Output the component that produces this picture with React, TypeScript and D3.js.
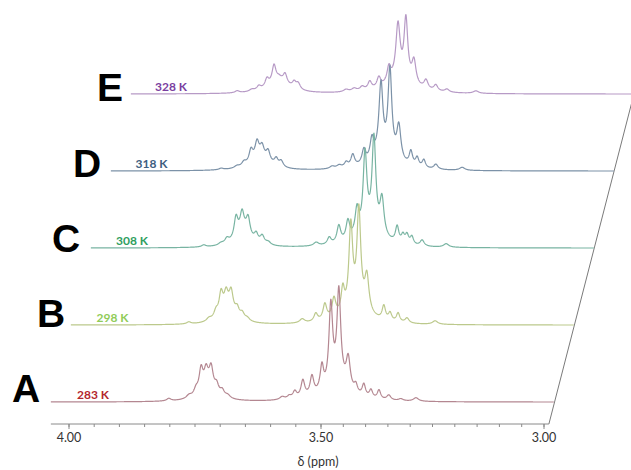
import React from "react";
import * as d3 from "d3";

// ---------- data ----------
const SPECTRUM_IDS = ["A", "B", "C", "D", "E"];
const TEMPERATURES = ["283 K", "298 K", "308 K", "318 K", "328 K"];
const TICK_VALUES = [4.0, 3.5, 3.0];
const TICK_LABELS = ["4.00", "3.50", "3.00"];
const AXIS_TITLE = "δ (ppm)";

// peaks: [ppm, height (a.u.), half-width (ppm)]
const PEAKS_A = [
  [3.802, 2.5, 0.005], [3.762, 3, 0.006], [3.748, 6, 0.005], [3.738, 22, 0.0045],
  [3.728, 15, 0.0045], [3.718, 19, 0.0045], [3.707, 8, 0.0045], [3.696, 6, 0.005],
  [3.685, 3, 0.006], [3.724, 16, 0.018],
  [3.577, 3, 0.006], [3.563, 3, 0.005], [3.552, 7, 0.0045], [3.536, 17, 0.0045],
  [3.518, 19, 0.0045], [3.498, 25, 0.0045], [3.478, 80, 0.005], [3.46, 90, 0.005],
  [3.439, 30, 0.0055], [3.422, 8, 0.0045], [3.404, 12, 0.0045], [3.388, 8, 0.0045],
  [3.37, 9, 0.0045], [3.348, 5, 0.0055], [3.321, 2, 0.006], [3.287, 3.5, 0.007],
  [3.462, 18, 0.03],
];
const PEAKS_B = [
  [3.802, 2, 0.005], [3.762, 3, 0.006], [3.748, 7, 0.005], [3.738, 21, 0.0045],
  [3.728, 15, 0.0045], [3.718, 18, 0.0045], [3.706, 8, 0.0045], [3.696, 6, 0.005],
  [3.686, 3, 0.006], [3.724, 16, 0.018],
  [3.577, 4, 0.006], [3.55, 8, 0.0045], [3.532, 16, 0.0045], [3.514, 19, 0.0045],
  [3.496, 24, 0.0045], [3.478, 82, 0.005], [3.46, 94, 0.005], [3.442, 34, 0.0055],
  [3.404, 14, 0.0045], [3.39, 8, 0.0045], [3.372, 9, 0.0045], [3.352, 5, 0.0055],
  [3.289, 3.5, 0.007], [3.464, 18, 0.03],
];
const PEAKS_C = [
  [3.812, 2, 0.005], [3.778, 2, 0.006], [3.766, 5, 0.005], [3.748, 20, 0.0045],
  [3.736, 18, 0.0045], [3.724, 17, 0.0045], [3.708, 8, 0.0045], [3.696, 8, 0.005],
  [3.684, 3, 0.006], [3.734, 16, 0.018],
  [3.589, 3.5, 0.006], [3.563, 7, 0.0045], [3.544, 17, 0.0045], [3.526, 19, 0.0045],
  [3.508, 25, 0.0045], [3.491, 76, 0.005], [3.471, 90, 0.005], [3.453, 36, 0.0055],
  [3.419, 16, 0.0045], [3.406, 8, 0.0045], [3.397, 9, 0.0045], [3.386, 8, 0.0045],
  [3.363, 6, 0.0055], [3.309, 3.5, 0.007], [3.48, 18, 0.03],
];
const PEAKS_D = [
  [3.817, 1.5, 0.005], [3.786, 2, 0.006], [3.772, 4, 0.005], [3.758, 12, 0.0045],
  [3.746, 15, 0.0045], [3.736, 10, 0.0045], [3.724, 10, 0.0045], [3.708, 7, 0.0045],
  [3.698, 6, 0.005], [3.74, 14, 0.022],
  [3.597, 2.5, 0.006], [3.583, 3, 0.006], [3.569, 5, 0.0045], [3.556, 12, 0.0045],
  [3.534, 14, 0.0045], [3.518, 20, 0.0045], [3.5, 70, 0.005], [3.48, 84, 0.005],
  [3.46, 34, 0.0055], [3.433, 14, 0.0045], [3.419, 9, 0.0045], [3.404, 8, 0.0045],
  [3.377, 5, 0.0055], [3.318, 3, 0.007], [3.489, 16, 0.03],
];
const PEAKS_E = [
  [3.825, 2, 0.005], [3.796, 2, 0.006], [3.782, 4, 0.005], [3.766, 8, 0.0045],
  [3.752, 17, 0.0045], [3.742, 2, 0.0045], [3.73, 9, 0.0045], [3.712, 6, 0.0045],
  [3.704, 6, 0.005], [3.742, 13, 0.024],
  [3.609, 2.5, 0.006], [3.593, 3, 0.006], [3.577, 4, 0.0055], [3.562, 8, 0.0045],
  [3.544, 10, 0.0045], [3.524, 15, 0.0045], [3.506, 53, 0.005], [3.489, 60, 0.005],
  [3.471, 23, 0.0055], [3.444, 9, 0.0055], [3.422, 6, 0.0055], [3.397, 3, 0.006],
  [3.332, 2.5, 0.007], [3.5, 14, 0.033],
];
const PEAK_LISTS = [PEAKS_A, PEAKS_B, PEAKS_C, PEAKS_D, PEAKS_E];

// ---------- styles / layout ----------
const LINE_COLORS = ["#b48791", "#bcc98c", "#78b4a2", "#7c92a8", "#b79ac6"];
const LABEL_COLORS = ["#b3262d", "#90cc58", "#2f9e5e", "#3e5e80", "#7a3ea0"];
const LETTER_X = [12, 37, 52, 73, 97];
const LETTER_Y = [402, 327, 252, 177, 101];

const W = 631;
const H = 470;
const BASE_Y = 402;
const AXIS_Y = 424;
const STEP_X = 20;
const STEP_Y = 77;
const PPM_LEFT = 4.036;
const PPM_RIGHT = 2.978;
const AXIS_RIGHT_PPM = 2.989;

function intensity(peaks: number[][], ppm: number) {
  let s = 0;
  for (const [c, h, w] of peaks) {
    const u = (ppm - c) / w;
    s += h / (1 + u * u);
  }
  return s;
}

export default function App() {
  const x = d3.scaleLinear().domain([4.0, 3.5, 3.0]).range([69, 321, 544]);
  const grid = d3.range(PPM_LEFT, PPM_RIGHT - 1e-9, -0.0005).concat([PPM_RIGHT]);
  const minor = d3.range(0, 21).map((i) => 4.0 - i * 0.05);

  const axisStart = x(PPM_LEFT);
  const axisEnd = x(AXIS_RIGHT_PPM);

  const spectra = PEAK_LISTS.map((peaks, k) => {
    const base = BASE_Y - k * STEP_Y;
    const y = d3.scaleLinear().domain([0, 100]).range([base, base - 100]);
    // baseline offset so that the far-away Lorentzian tails sit on the baseline
    const floor = Math.min(intensity(peaks, PPM_LEFT), intensity(peaks, PPM_RIGHT));
    const line = d3
      .line<number>()
      .x((p) => x(p) + k * STEP_X)
      .y((p) => y(intensity(peaks, p) - floor));
    return line(grid) as string;
  });

  const edgeTop = x(PPM_RIGHT) + 5 * STEP_X;
  const edgeTopY = BASE_Y - 5 * STEP_Y;

  return (
    <svg
      width={W}
      height={H}
      viewBox={`0 0 ${W} ${H}`}
      style={{ position: "absolute", left: 0, top: 0, background: "#fff" }}
    >
      <rect x={0} y={0} width={W} height={H} fill="#fff" />
      <line x1={axisEnd} y1={AXIS_Y} x2={edgeTop} y2={edgeTopY} stroke="#7a7a7a" strokeWidth={1} />
      {spectra
        .map((d, k) => ({ d, k }))
        .reverse()
        .map(({ d, k }) => (
          <path key={k} d={d} fill="none" stroke={LINE_COLORS[k]} strokeWidth={1.2} strokeLinejoin="round" />
        ))}
      {SPECTRUM_IDS.map((id, k) => (
        <text
          key={id}
          x={LETTER_X[k]}
          y={LETTER_Y[k]}
          fontFamily="'Liberation Sans', Arial, sans-serif"
          fontWeight="bold"
          fontSize={39}
          fill="#000"
        >
          {id}
        </text>
      ))}
      {TEMPERATURES.map((t, k) => (
        <text
          key={t}
          x={77 + k * 19.5}
          y={BASE_Y - 3 - k * STEP_Y}
          fontFamily="Lato, 'Open Sans', sans-serif"
          fontWeight="bold"
          fontSize={12}
          fill={LABEL_COLORS[k]}
        >
          {t}
        </text>
      ))}
      <line x1={axisStart} y1={AXIS_Y} x2={axisEnd} y2={AXIS_Y} stroke="#8a8a8a" strokeWidth={1} />
      {minor.map((v) => (
        <line key={v} x1={x(v)} x2={x(v)} y1={AXIS_Y} y2={AXIS_Y + 3} stroke="#8a8a8a" strokeWidth={1} />
      ))}
      {TICK_VALUES.map((v, i) => (
        <g key={v}>
          <line x1={x(v)} x2={x(v)} y1={AXIS_Y} y2={AXIS_Y + 5} stroke="#8a8a8a" strokeWidth={1} />
          <text
            x={x(v)}
            y={AXIS_Y + 18}
            textAnchor="middle"
            fontFamily="Lato, 'Open Sans', sans-serif"
            fontSize={12.5}
            fill="#333"
          >
            {TICK_LABELS[i]}
          </text>
        </g>
      ))}
      <text
        x={318}
        y={466}
        textAnchor="middle"
        fontFamily="Lato, 'Open Sans', sans-serif"
        fontSize={12.5}
        fill="#333"
      >
        {AXIS_TITLE}
      </text>
    </svg>
  );
}
